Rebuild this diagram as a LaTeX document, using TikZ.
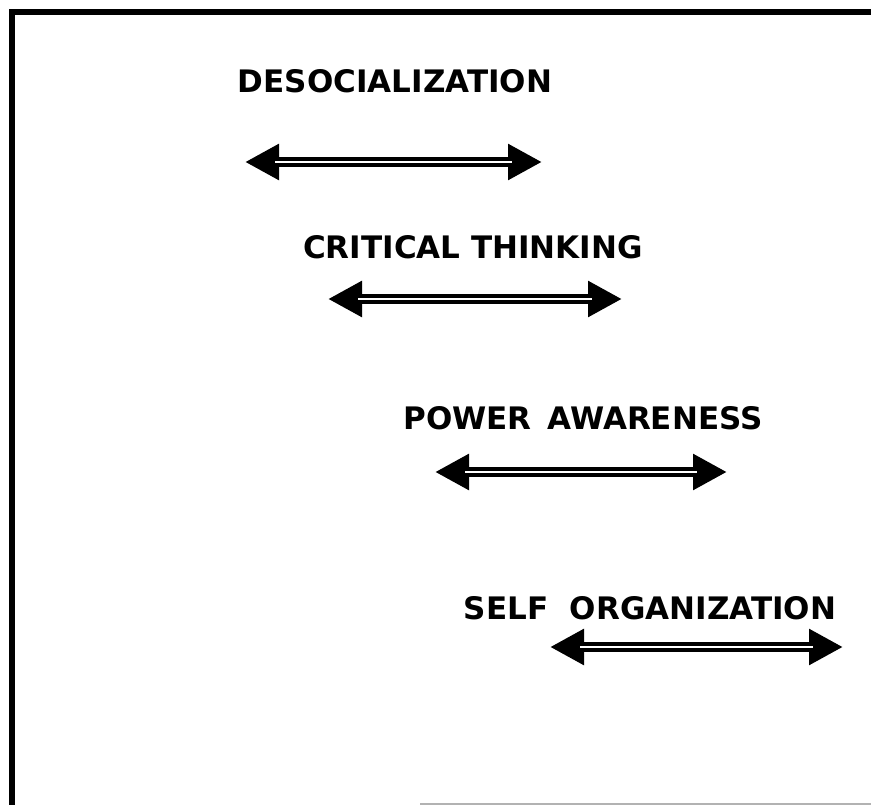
\documentclass[tikz,border=0pt]{standalone}
\usepackage{fontspec}
\setmainfont{DejaVu Sans}
\usetikzlibrary{
  arrows.meta,
  positioning,
}
\tikzset{
  stagelabel/.style={font=\bfseries\fontsize{31}{36}\selectfont,inner sep=0pt,anchor=center},
  pairarrow/.style={line width=10pt,{Triangle[length=34pt,width=34pt]}-{Triangle[length=34pt,width=34pt]}},
  pairgap/.style={white,line width=1.6pt,shorten <=30pt,shorten >=30pt,yshift=1pt},
  frameline/.style={line width=6pt,line cap=rect},
}

\begin{document}
\begin{tikzpicture}[x=1pt,y=-1pt]
        \useasboundingbox (0,0) rectangle (871,805);

        % frame
        \coordinate (fTL) at (12,12);
        \coordinate (fTR) at (874,12);
        \coordinate (fBL) at (12,808);
        \coordinate (gL)  at (420,804);
        \coordinate (gR)  at (871,804);
        \draw[frameline] (fTR) -- (fTL) -- (fBL);
        \draw[gray!60,line width=1.5pt] (gL) -- (gR);

        % labels
        \node[stagelabel] (desoc)    at (395,81)  {DESOCIALIZATION};
        \node[stagelabel] (critical) at (473,247) {CRITICAL THINKING};
        \node[stagelabel] (power)    at (583,418) {POWER\,\ AWARENESS};
        \node[stagelabel] (selforg)  at (650,608) {SELF\ \ ORGANIZATION};

        % arrow ends
        \coordinate (desocL)    at (245,162);
        \coordinate (desocR)    at (542,162);
        \coordinate (criticalL) at (328,299);
        \coordinate (criticalR) at (622,299);
        \coordinate (powerL)    at (435,472);
        \coordinate (powerR)    at (727,472);
        \coordinate (selforgL)  at (550,647);
        \coordinate (selforgR)  at (843,647);

        \foreach \s in {desoc,critical,power,selforg} {
          \draw[pairarrow] (\s L) -- (\s R);
          \draw[pairgap] (\s L) -- (\s R);
        }

    \end{tikzpicture}
\end{document}
